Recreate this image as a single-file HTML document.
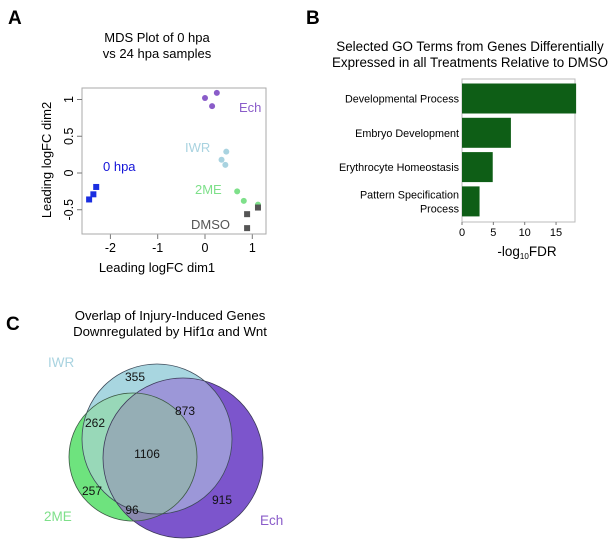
<!DOCTYPE html>
<html><head><meta charset="utf-8"><style>
html,body{margin:0;padding:0;background:#fff}
svg{display:block;font-family:"Liberation Sans",Arial,sans-serif}
</style></head><body>
<svg width="612" height="559" viewBox="0 0 612 559" xmlns="http://www.w3.org/2000/svg">
<g id="panelA">
<text x="8" y="24" font-size="19" font-weight="bold">A</text>
<text x="157" y="42" font-size="13" text-anchor="middle">MDS Plot of 0 hpa</text>
<text x="157" y="58" font-size="13" text-anchor="middle">vs 24 hpa samples</text>
<rect x="82" y="88" width="184" height="146" fill="none" stroke="#aaa" stroke-width="1"/>
<g id="aAxes"></g><g id="aPts"></g>
<text x="157" y="272" font-size="13" text-anchor="middle">Leading logFC dim1</text>
<text transform="translate(51,160) rotate(-90)" font-size="13" text-anchor="middle">Leading logFC dim2</text>
<text x="239" y="112" font-size="13" fill="#8a5cc9">Ech</text>
<text x="185" y="152" font-size="13" fill="#a9d3e0">IWR</text>
<text x="103" y="171" font-size="13" fill="#1414d8">0 hpa</text>
<text x="195" y="194" font-size="13" fill="#7ee08a">2ME</text>
<text x="191" y="229" font-size="13" fill="#555">DMSO</text>
</g>
<g id="panelB">
<text x="306" y="24" font-size="19" font-weight="bold">B</text>
<text x="470" y="51" font-size="13.4" text-anchor="middle">Selected GO Terms from Genes Differentially</text>
<text x="470" y="67" font-size="13.4" text-anchor="middle">Expressed in all Treatments Relative to DMSO</text>
<rect x="462" y="79" width="113" height="143" fill="none" stroke="#bbb"/>
<g id="bBars"></g>
<text x="527" y="256" font-size="13.5" text-anchor="middle">-log<tspan font-size="8" dy="3">10</tspan><tspan dy="-3">FDR</tspan></text>
</g>
<g id="panelC">
<text x="6" y="330" font-size="19" font-weight="bold">C</text>
<text x="170" y="320" font-size="13.2" text-anchor="middle">Overlap of Injury-Induced Genes</text>
<text x="170" y="336" font-size="13.2" text-anchor="middle">Downregulated by Hif1α and Wnt</text>
<defs>
<clipPath id="cI"><circle cx="157" cy="439" r="75"/></clipPath>
<clipPath id="cE"><circle cx="183" cy="458" r="80"/></clipPath>
<clipPath id="cM"><circle cx="133" cy="457" r="64"/></clipPath>
</defs>
<circle cx="183" cy="458" r="80" fill="#7c55cc"/>
<circle cx="157" cy="439" r="75" fill="#a8d6e0"/>
<circle cx="133" cy="457" r="64" fill="#6ee37e"/>
<g clip-path="url(#cI)"><circle cx="183" cy="458" r="80" fill="#9c97d8"/></g>
<g clip-path="url(#cI)"><circle cx="133" cy="457" r="64" fill="#98d8b8"/></g>
<g clip-path="url(#cE)"><circle cx="133" cy="457" r="64" fill="#8a8ab0"/></g>
<g clip-path="url(#cE)"><g clip-path="url(#cI)"><circle cx="133" cy="457" r="64" fill="#95aeb5"/></g></g>
<circle cx="183" cy="458" r="80" fill="none" stroke="#3d3a5a" stroke-width="0.8"/>
<circle cx="157" cy="439" r="75" fill="none" stroke="#3d4a5a" stroke-width="0.8"/>
<circle cx="133" cy="457" r="64" fill="none" stroke="#3d5a45" stroke-width="0.8"/>
<g font-size="12" text-anchor="middle" fill="#111">
<text x="135" y="381">355</text>
<text x="185" y="415">873</text>
<text x="95" y="427">262</text>
<text x="147" y="458">1106</text>
<text x="92" y="495">257</text>
<text x="222" y="504">915</text>
<text x="132" y="514">96</text>
</g>
<text x="48" y="367" font-size="13.5" fill="#a9d3e0">IWR</text>
<text x="44" y="521" font-size="13.5" fill="#7ee08a">2ME</text>
<text x="260" y="525" font-size="13.5" fill="#8a5cc9">Ech</text>
</g>
</svg>
<script>
const groups=["Ech","IWR","2ME","DMSO","0hpa"];
const groupColors=["#8a5cc9","#a9d3e0","#7ee08a","#555555","#1a2ee0"];
const groupShapes=["circle","circle","circle","square","square"];
const dim1=[[0,0.25,0.15],[0.45,0.35,0.43],[0.68,0.82,1.12],[0.89,0.89,1.12],[-2.3,-2.36,-2.45]];
const dim2=[[1.02,1.09,0.91],[0.29,0.18,0.11],[-0.25,-0.38,-0.43],[-0.56,-0.75,-0.47],[-0.19,-0.29,-0.36]];
const xTicks=[-2,-1,0,1];
const yTicks=[1,0.5,0,-0.5];
const goTerms=[["Developmental Process"],["Embryo Development"],["Erythrocyte Homeostasis"],["Pattern Specification","Process"]];
const goValues=[18.2,7.8,4.9,2.8];
const goTicks=[0,5,10,15];
const NS="http://www.w3.org/2000/svg";
function mk(t,a,p){const e=document.createElementNS(NS,t);for(const k in a)e.setAttribute(k,a[k]);p.appendChild(e);return e;}
const xA=v=>205+v*47.3, yA=v=>173-v*73.5;
const ax=document.getElementById('aAxes');
xTicks.forEach(t=>{const l=mk('line',{x1:xA(t),x2:xA(t),y1:234,y2:239,stroke:'#777'},ax);


const tx=mk('text',{x:xA(t),y:252,'font-size':12.5,'text-anchor':'middle'},ax);tx.textContent=t;

});
mk('line',{x1:xA(-2.5),x2:xA(1.1),y1:234,y2:234,stroke:'#aaa'},ax);
yTicks.forEach(t=>{const l=mk('line',{x1:77,x2:82,y1:yA(t),y2:yA(t),stroke:'#777'},ax);


const tx=mk('text',{transform:`translate(73,${yA(t)}) rotate(-90)`,'font-size':12.5,'text-anchor':'middle'},ax);tx.textContent=t;

});
const pg=document.getElementById('aPts');
groups.forEach((g,i)=>{dim1[i].forEach((x,j)=>{const y=dim2[i][j];let e;
if(groupShapes[i]==='circle')e=mk('circle',{cx:xA(x),cy:yA(y),r:3,fill:groupColors[i]},pg);
else e=mk('rect',{x:xA(x)-3,y:yA(y)-3,width:6,height:6,fill:groupColors[i]},pg);

});});
const xB=v=>462+v*6.27;
const bb=document.getElementById('bBars');
goValues.forEach((v,i)=>{const y0=80.5+i*34.3;
const r=mk('rect',{x:462,y:y0+3,width:xB(v)-462,height:30,fill:'#0e5e16'},bb);


const lines=goTerms[i];lines.forEach((s,k)=>{const t=mk('text',{x:459,y:y0+22+(k-(lines.length-1)/2)*14,'font-size':10.8,'text-anchor':'end'},bb);t.textContent=s;

});});
goTicks.forEach(t=>{const l=mk('line',{x1:xB(t),x2:xB(t),y1:222,y2:225,stroke:'#777'},bb);


const tx=mk('text',{x:xB(t),y:236,'font-size':11,'text-anchor':'middle'},bb);tx.textContent=t;

});
</script>
</body></html>
